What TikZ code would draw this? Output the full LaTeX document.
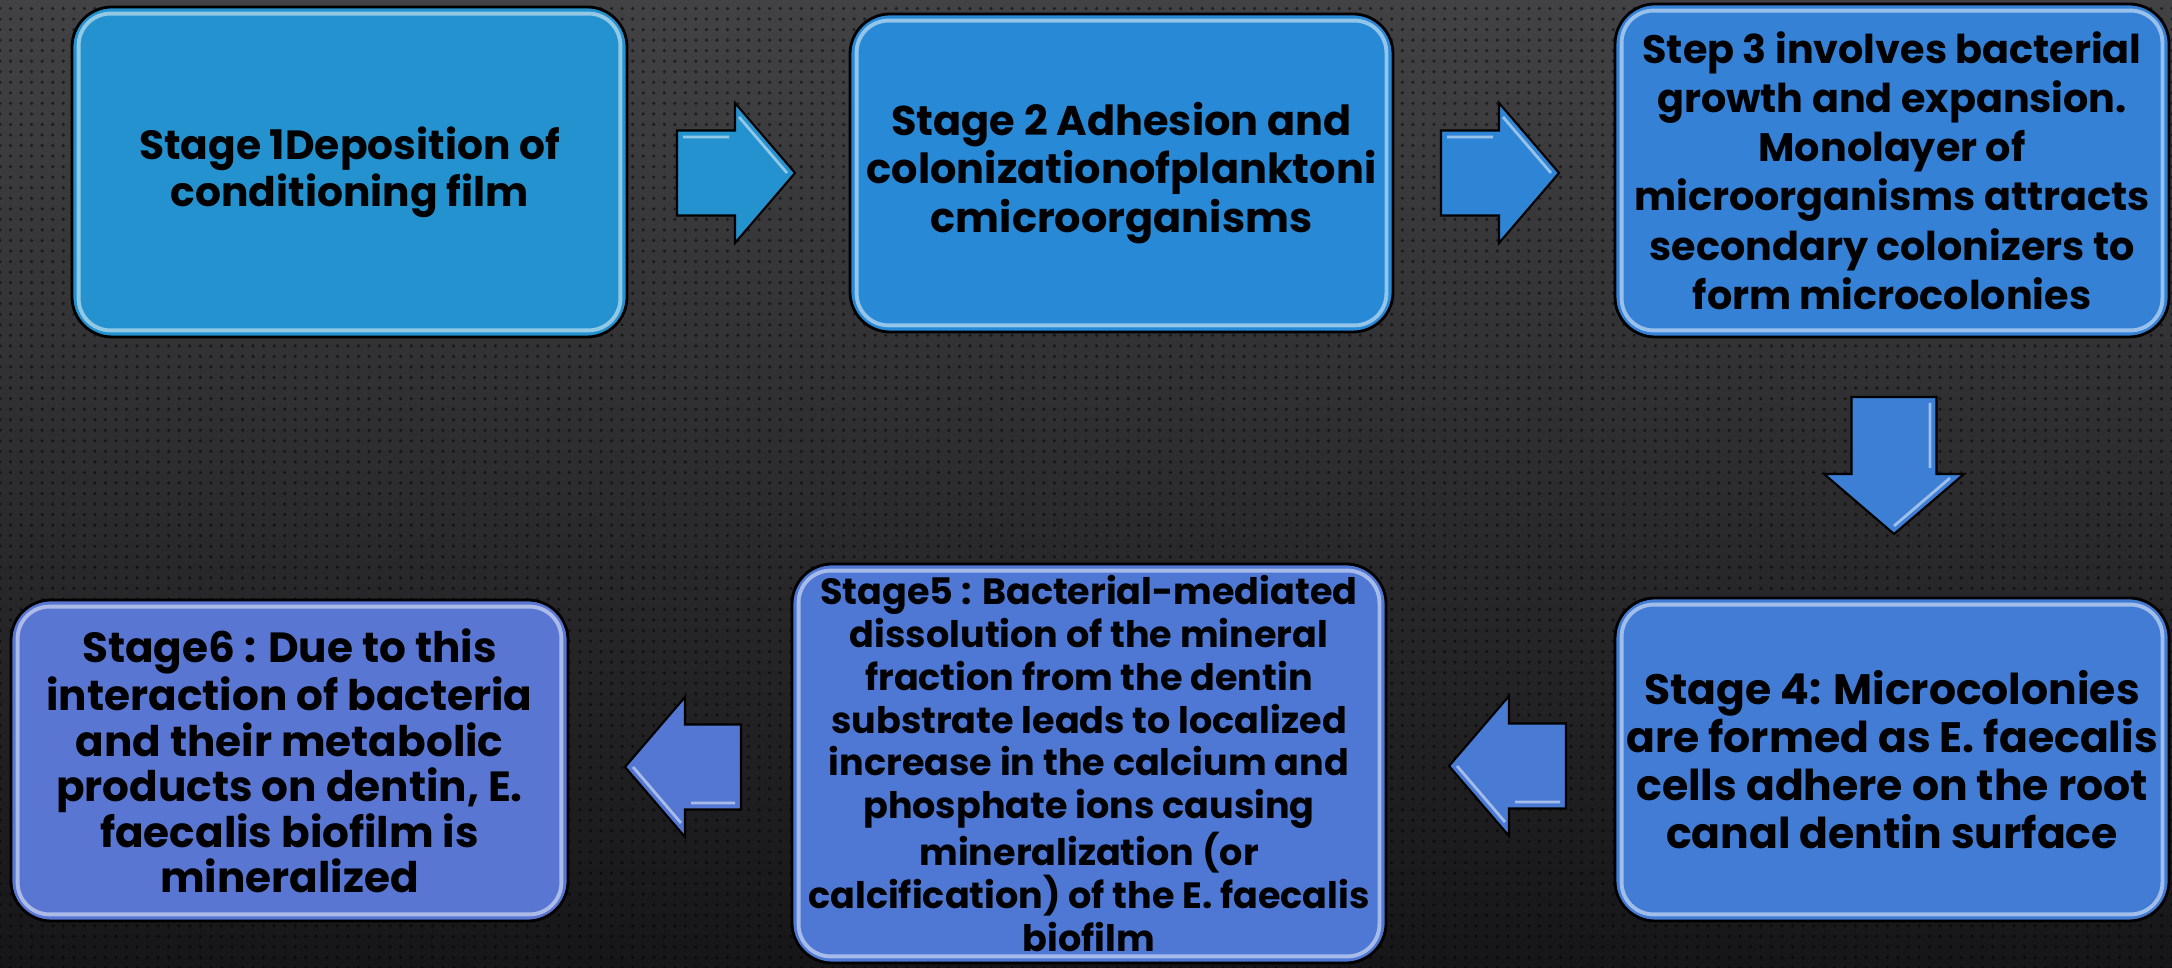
\documentclass[tikz,border=0pt]{standalone}
\usepackage{fontspec}
\setmainfont{Poppins}
\usetikzlibrary{patterns,calc}

\definecolor{bgtop}{RGB}{66,66,68}
\definecolor{bgbot}{RGB}{22,22,24}
\definecolor{cone}{RGB}{36,146,206}
\definecolor{ctwo}{RGB}{40,137,214}
\definecolor{cthree}{RGB}{52,129,214}
\definecolor{cfour}{RGB}{67,124,212}
\definecolor{cfive}{RGB}{78,120,212}
\definecolor{csix}{RGB}{89,118,210}

\tikzset{
  stagebox/.style={draw=black, line width=0.8pt, rounded corners=0.4cm,
    align=center, inner sep=0pt, text=black},
  stagefont/.style 2 args={font=\bfseries\fontsize{#1}{#2}\selectfont},
  bevel/.style={draw=white, draw opacity=0.5, line width=1.1pt, rounded corners=0.32cm},
  arrowbody/.style={draw=black, line width=0.6pt, line join=miter}
}

% block arrow: centre, angle, half length, colour
\newcommand{\stagearrow}[4]{%
  \begin{scope}[shift={(#1)}, rotate=#2]
    \filldraw[arrowbody, fill=#4] (-#3,-0.425) -- (#3-0.6,-0.425) -- (#3-0.6,-0.70)
      -- (#3,0) -- (#3-0.6,0.70) -- (#3-0.6,0.425) -- (-#3,0.425) -- cycle;
    \draw[white, opacity=0.5, line width=0.8pt] (-#3+0.06,0.36) -- (#3-0.66,0.36)
      (#3-0.56,0.56) -- (#3-0.08,0);
  \end{scope}}

\begin{document}
\begin{tikzpicture}
  \useasboundingbox (0,0) rectangle (21.72,9.68);
  \shade[top color=bgtop, bottom color=bgbot] (0,0) rectangle (21.72,9.68);
  \fill[pattern=dots, pattern color=black, opacity=0.5] (0,0) rectangle (21.72,9.68);

  % stages
  \node[stagebox, stagefont={11.6}{13.4}, fill=cone, minimum width=5.55cm, minimum height=3.30cm] (s1) at (3.495,7.96)
    {Stage 1Deposition of\\conditioning film};
  \node[stagebox, stagefont={11.8}{13.8}, fill=ctwo, minimum width=5.43cm, minimum height=3.18cm] (s2) at (11.215,7.95)
    {Stage 2 Adhesion and\\colonizationofplanktoni\\cmicroorganisms};
  \node[stagebox, stagefont={11.3}{14}, fill=cthree, minimum width=5.54cm, minimum height=3.33cm] (s3) at (18.92,7.975)
    {Step 3 involves bacterial\\growth and expansion.\\Monolayer of\\microorganisms attracts\\secondary colonizers to\\form microcolonies};
  \node[stagebox, stagefont={12.1}{13.6}, fill=cfour, minimum width=5.54cm, minimum height=3.23cm] (s4) at (18.92,2.085)
    {Stage 4: Microcolonies\\are formed as E. faecalis\\cells adhere on the root\\canal dentin surface};
  \node[stagebox, stagefont={10.4}{12.2}, fill=cfive, minimum width=5.94cm, minimum height=3.99cm] (s5) at (10.89,2.045)
    {Stage5 : Bacterial-mediated\\dissolution of the mineral\\fraction from the dentin\\substrate leads to localized\\increase in the calcium and\\phosphate ions causing\\mineralization (or\\calcification) of the E. faecalis\\biofilm};
  \node[stagebox, stagefont={12}{12.9}, fill=csix, minimum width=5.57cm, minimum height=3.21cm] (s6) at (2.895,2.075)
    {Stage6 : Due to this\\interaction of bacteria\\and their metabolic\\products on dentin, E.\\faecalis biofilm is\\mineralized};

  \foreach \s in {s1,s2,s3,s4,s5,s6}
    \draw[bevel] ([shift={(0.08,0.08)}]\s.south west) rectangle ([shift={(-0.08,-0.08)}]\s.north east);

  % arrows between stages
  \coordinate (a12) at (7.36,7.95);
  \coordinate (a23) at (15.00,7.95);
  \coordinate (a34) at (18.94,5.025);
  \coordinate (a45) at (15.075,2.02);
  \coordinate (a56) at (6.83,2.01);
  \stagearrow{a12}{0}{0.59}{cone!95!ctwo}
  \stagearrow{a23}{0}{0.59}{ctwo!50!cthree}
  \stagearrow{a34}{-90}{0.685}{cthree!50!cfour}
  \stagearrow{a45}{180}{0.585}{cfour!50!cfive}
  \stagearrow{a56}{180}{0.58}{cfive!50!csix}
\end{tikzpicture}
\end{document}
